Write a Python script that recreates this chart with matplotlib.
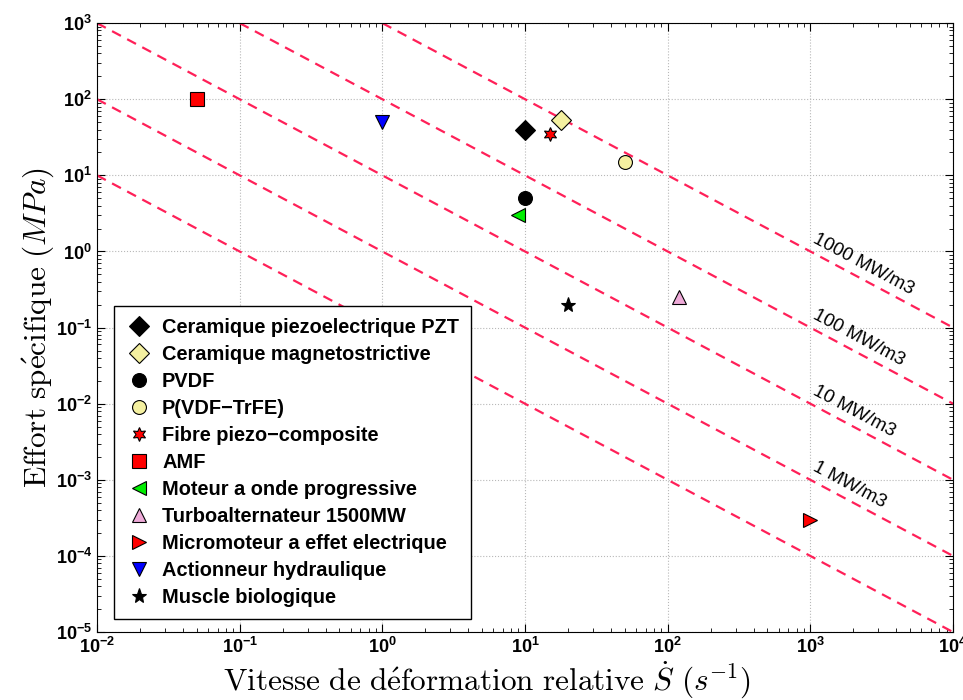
import numpy as np
import matplotlib
matplotlib.use('Agg')
import matplotlib.pyplot as plt

plt.rcParams['mathtext.fontset'] = 'cm'
plt.rcParams['font.family'] = ['Liberation Sans', 'DejaVu Sans']

# Materials / actuators: strain rate (1/s) and specific stress (MPa)
labels = ['Ceramique piezoelectrique PZT', 'Ceramique magnetostrictive', 'PVDF',
          'P(VDF\u2212TrFE)', 'Fibre piezo\u2212composite', 'AMF',
          'Moteur a onde progressive', 'Turboalternateur 1500MW',
          'Micromoteur a effet electrique', 'Actionneur hydraulique', 'Muscle biologique']
vitesse = [10, 18, 10, 50, 15, 0.05, 9, 120, 1000, 1, 20]
effort = [40, 53, 5, 15, 35, 100, 3, 0.25, 3e-4, 50, 0.2]
markers = ['D', 'D', 'o', 'o', (6, 1, 0), 's', '<', '^', '>', 'v', '*']
colors = ['black', '#f4f0a0', 'black', '#f4f0a0', 'red', 'red', '#00ee00',
          '#eeaad8', 'red', 'blue', 'black']

# iso-power density lines (MW/m3)
puissances = [0.1, 1, 10, 100, 1000]
puissance_labels = ['1 MW/m3', '10 MW/m3', '100 MW/m3', '1000 MW/m3']

fig = plt.figure(figsize=(9.63, 7.0), dpi=100)
ax = fig.add_axes([0.1007, 0.097, 0.889, 0.870])

x = np.logspace(-2, 4, 200)
for p in puissances:
    ax.plot(x, p / x, '--', color='#ff2058', lw=1.6, dashes=(4.5, 3.2))

for lab, xv, yv, m, c in zip(labels, vitesse, effort, markers, colors):
    size = 11 if m == '*' else 10
    ax.plot(xv, yv, linestyle='none', marker=m, markersize=size,
            markerfacecolor=c, markeredgecolor='black', markeredgewidth=0.8,
            label=lab)

ax.set_xscale('log')
ax.set_yscale('log')
ax.set_xlim(1e-2, 1e4)
ax.set_ylim(1e-5, 1e3)

# angle of the iso lines on screen
p0 = ax.transData.transform((1e2, 1e0))
p1 = ax.transData.transform((1e3, 1e-1))
angle = np.degrees(np.arctan2(p1[1] - p0[1], p1[0] - p0[0]))
for p, txt in zip(puissances[1:], puissance_labels):
    ax.text(1000, p / 1000 * 1.2, txt, rotation=angle, rotation_mode='anchor',
            ha='left', va='bottom', fontsize=13.5)

ax.grid(True, which='major', linestyle=':', color='#b8b8b8', lw=0.8)
ax.tick_params(which='both', direction='in', top=True, right=True)
ax.tick_params(which='major', length=6, labelsize=13)
ax.tick_params(which='minor', length=3)
ax.set_xticks([1e-2, 1e-1, 1e0, 1e1, 1e2, 1e3, 1e4])
ax.set_yticks([10.0 ** k for k in range(-5, 4)])
for t in ax.get_xticklabels() + ax.get_yticklabels():
    t.set_fontweight('bold')

ax.set_xlabel(r'$\mathrm{Vitesse\ de\ d\acute{e}formation\ relative}\ \dot{S}\ (s^{-1})$',
              fontsize=22.5)
ax.xaxis.set_label_coords(0.456, -0.045, transform=ax.transAxes)
ax.xaxis.label.set_va('top')
ax.set_ylabel(r'$\mathrm{Effort\ sp\acute{e}cifique}\ (MPa)$', fontsize=22.5, labelpad=0)

leg = ax.legend(loc='lower left', bbox_to_anchor=(0.02, 0.021), fancybox=False,
                edgecolor='black', framealpha=1, prop={'weight': 'bold', 'size': 14.4},
                handletextpad=0.5, borderpad=0.6, labelspacing=0.4, handlelength=1.3,
                borderaxespad=0)
leg.get_frame().set_linewidth(1.0)

fig.savefig('out.png', dpi=100)
